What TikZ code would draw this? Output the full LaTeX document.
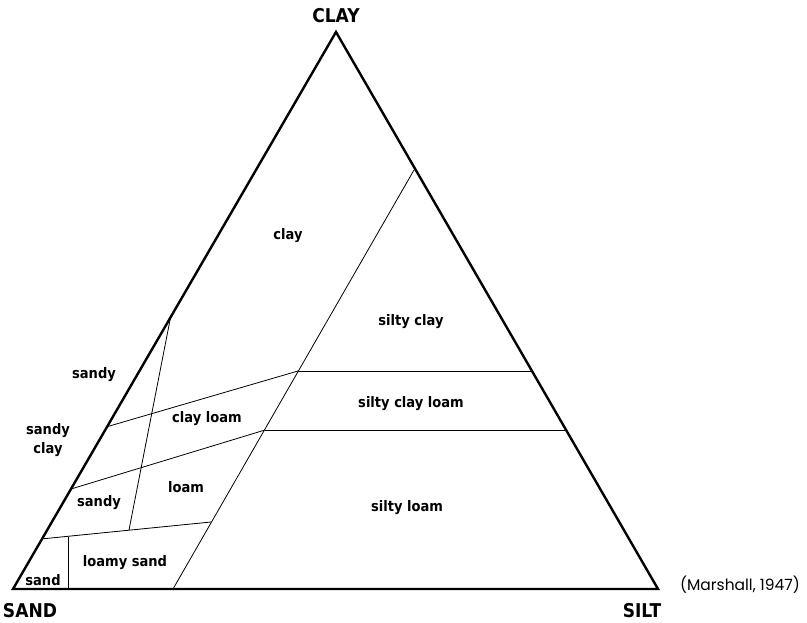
\documentclass[tikz,border=0pt]{standalone}
\usepackage{fontspec}
\newfontfamily\labfont[FakeStretch=0.9]{DejaVu Sans}
\newfontfamily\citefont{Poppins}
\begin{document}
\begin{tikzpicture}[x=1pt,y=-1pt,
  outline/.style={line width=2.4pt,line join=miter},
  divider/.style={line width=0.8pt},
  region/.style={font=\labfont\bfseries\fontsize{14.5}{19}\selectfont,inner sep=0pt,align=center},
  corner/.style={font=\labfont\bfseries\fontsize{19}{21}\selectfont,inner sep=0pt},
  cite/.style={font=\citefont\fontsize{15.5}{17}\selectfont,inner sep=0pt}]
\useasboundingbox (0,0) rectangle (807,623);
% vertices
\coordinate (A) at (336,32);
\coordinate (S) at (13,589);
\coordinate (T) at (658,589);
% boundary points
\coordinate (P1) at (414,170);
\coordinate (P2) at (173,589);
\coordinate (Q1) at (298,371);
\coordinate (Q2) at (531,371);
\coordinate (R1) at (265,430);
\coordinate (R2) at (566,430);
\coordinate (L1) at (106,427);
\coordinate (L2) at (71,489);
\coordinate (V1) at (171,315);
\coordinate (V2) at (129,530);
\coordinate (W1) at (41,539);
\coordinate (W2) at (211,522);
\coordinate (U1) at (68,536.5);
\coordinate (U2) at (68,589);
% inner lines
\draw[divider] (P1) -- (P2);
\draw[divider] (Q1) -- (Q2);
\draw[divider] (R1) -- (R2);
\draw[divider] (L1) -- (Q1);
\draw[divider] (L2) -- (R1);
\draw[divider] (V1) -- (V2);
\draw[divider] (W1) -- (W2);
\draw[divider] (U1) -- (U2);
% triangle
\draw[outline] (A) -- (T) -- (S) -- cycle;
% corner labels
\node[corner] (nclay) at (336,15.5) {CLAY};
\node[corner] (nsand) at (30,610.5) {SAND};
\node[corner] (nsilt) at (642,610.5) {SILT};
\node[cite] (ncite) at (740,585) {(Marshall, 1947)};
% region labels
\node[region] (r1) at (288,236) {clay};
\node[region] (r2) at (411,322) {silty clay};
\node[region] (r3) at (94,375) {sandy};
\node[region] (r4) at (48,440) {sandy\\clay};
\node[region] (r5) at (207,419) {clay loam};
\node[region] (r6) at (411,404) {silty clay loam};
\node[region] (r7) at (186,487) {loam};
\node[region] (r8) at (99,503) {sandy};
\node[region] (r9) at (407,508) {silty loam};
\node[region] (r10) at (125,563) {loamy sand};
\node[region] (r11) at (43,580) {sand};
\end{tikzpicture}
\end{document}
